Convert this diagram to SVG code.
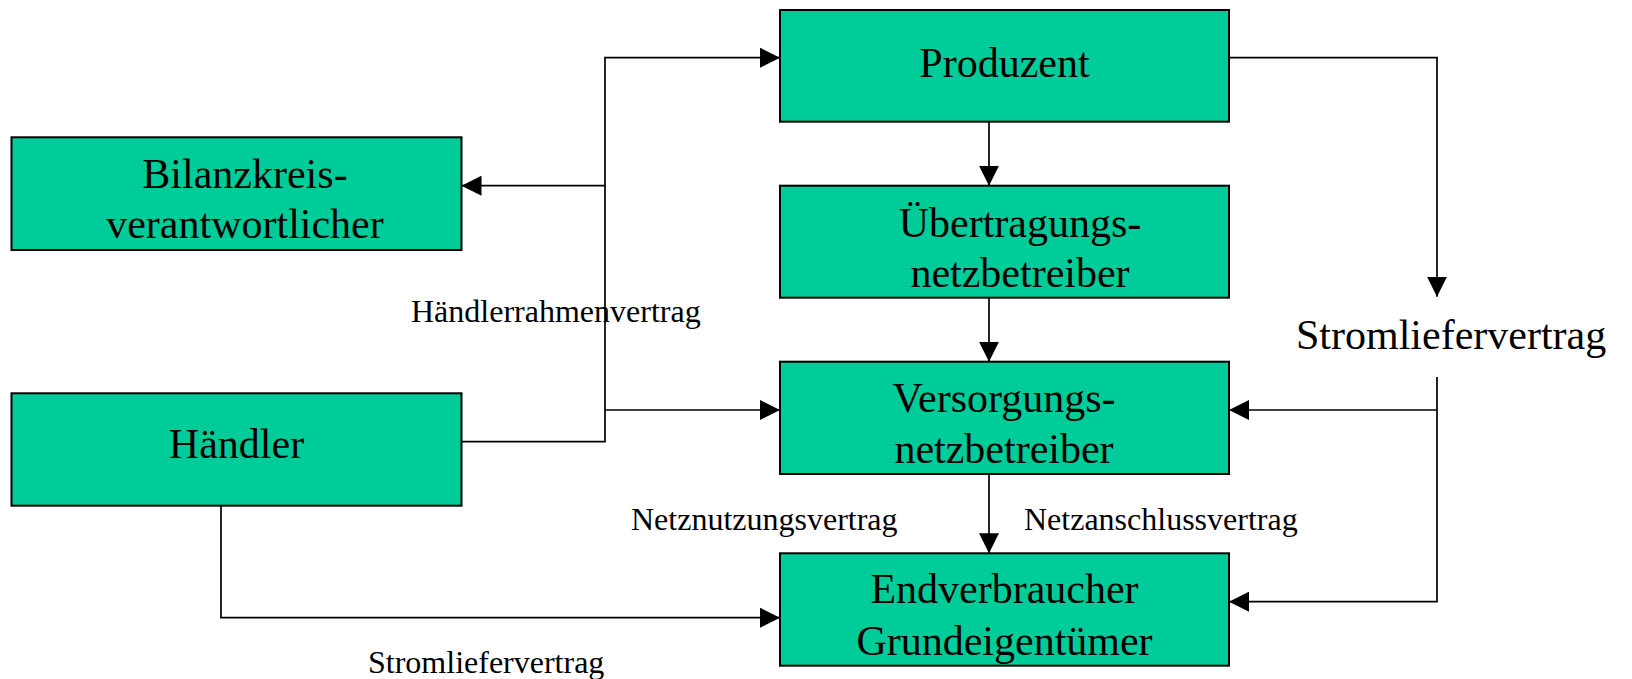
<svg xmlns="http://www.w3.org/2000/svg" width="1632" height="679" viewBox="0 0 1632 679">
<defs>
<style>
.box{fill:#00CC99;stroke:#000;stroke-width:2}
.big{font-family:"Liberation Serif","Times New Roman",serif;font-size:42px;fill:#000;text-anchor:middle}
.lbl{font-family:"Liberation Serif","Times New Roman",serif;font-size:32px;fill:#000}
.lbl42{font-family:"Liberation Serif","Times New Roman",serif;font-size:42px;fill:#000}
.con{fill:none;stroke:#000;stroke-width:1.7}
</style>
<marker id="ah" viewBox="0 0 20 20" refX="20" refY="10" markerWidth="20" markerHeight="20" markerUnits="userSpaceOnUse" orient="auto">
<path d="M0,0 L20,10 L0,20 Z" fill="#000"/>
</marker>
</defs>
<rect width="1632" height="679" fill="#fff"/>
<g id="connectors">
<path class="con" d="M989,121.7 V185.7" marker-end="url(#ah)"/>
<path class="con" d="M989,297.7 V361.7" marker-end="url(#ah)"/>
<path class="con" d="M989,474 V553.3" marker-end="url(#ah)"/>
<path class="con" d="M1229,57.7 H1437 V296.7" marker-end="url(#ah)"/>
<path class="con" d="M1437,377 V601.7 H1229" marker-end="url(#ah)"/>
<path class="con" d="M1437,410 H1229" marker-end="url(#ah)"/>
<path class="con" d="M461.5,441.7 H605 V57.7 H780" marker-end="url(#ah)"/>
<path class="con" d="M605,410 H780" marker-end="url(#ah)"/>
<path class="con" d="M605,185.7 H461.5" marker-end="url(#ah)"/>
<path class="con" d="M221,505.7 V617.7 H780" marker-end="url(#ah)"/>
<text class="lbl" x="411" y="321.7">Händlerrahmenvertrag</text>
<text class="lbl42" x="1296" y="349">Stromliefervertrag</text>
<text class="lbl" x="631" y="530">Netznutzungsvertrag</text>
<text class="lbl" x="1024" y="530">Netzanschlussvertrag</text>
<text class="lbl" x="368" y="673">Stromliefervertrag</text>
</g>
<g id="produzent">
<rect class="box" x="780" y="10" width="449" height="111.7"/>
<text class="big" x="1004.5" y="76.7">Produzent</text>
</g>
<g id="uebertragungsnetzbetreiber">
<rect class="box" x="780" y="185.7" width="449" height="112"/>
<text class="big" x="1020" y="236.7">Übertragungs-</text>
<text class="big" x="1020" y="286.7">netzbetreiber</text>
</g>
<g id="versorgungsnetzbetreiber">
<rect class="box" x="780" y="361.7" width="449" height="112.3"/>
<text class="big" x="1004" y="411.7">Versorgungs-</text>
<text class="big" x="1004" y="463.3">netzbetreiber</text>
</g>
<g id="endverbraucher">
<rect class="box" x="780" y="553.3" width="449" height="112.4"/>
<text class="big" x="1004.5" y="603.3">Endverbraucher</text>
<text class="big" x="1004.5" y="655">Grundeigentümer</text>
</g>
<g id="bilanzkreis">
<rect class="box" x="11.5" y="137.3" width="450" height="112.7"/>
<text class="big" x="245" y="188.3">Bilanzkreis-</text>
<text class="big" x="245" y="238.3">verantwortlicher</text>
</g>
<g id="haendler">
<rect class="box" x="11.5" y="393.3" width="450" height="112.4"/>
<text class="big" x="236.5" y="458.3">Händler</text>
</g>
</svg>
